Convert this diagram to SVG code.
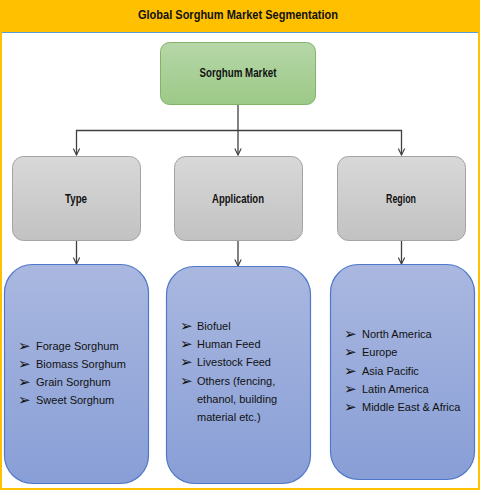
<svg xmlns="http://www.w3.org/2000/svg" width="480" height="491" viewBox="0 0 480 491">
<defs>
<linearGradient id="gGreen" x1="0" y1="0" x2="0" y2="1"><stop offset="0" stop-color="#B6D7A8"/><stop offset="1" stop-color="#9CC987"/></linearGradient>
<linearGradient id="gGray" x1="0" y1="0" x2="0" y2="1"><stop offset="0" stop-color="#D8D8D8"/><stop offset="1" stop-color="#C2C2C2"/></linearGradient>
<linearGradient id="gBlue" x1="0" y1="0" x2="0" y2="1"><stop offset="0" stop-color="#AAB8E0"/><stop offset="1" stop-color="#889ED6"/></linearGradient>
<marker id="arr" viewBox="0 0 10 10" refX="9" refY="5" markerWidth="8" markerHeight="8" markerUnits="userSpaceOnUse" orient="auto"><path d="M1,1 L9,5 L1,9" fill="none" stroke="#404040" stroke-width="1.4"/></marker>
</defs>
<style>
.title{font-family:"Liberation Sans",Arial,sans-serif;font-weight:bold;font-size:13px;fill:#111}
.hdr{font-family:"Liberation Sans",Arial,sans-serif;font-weight:bold;font-size:12px;fill:#111;text-anchor:middle}
.li{font-family:"Liberation Sans",Arial,sans-serif;font-size:11px;fill:#111}
.bul{font-family:"DejaVu Sans",sans-serif;font-size:15px;fill:#111}
.green{fill:url(#gGreen);stroke:#82B366;stroke-width:1}
.gray{fill:url(#gGray);stroke:#A3A3A3;stroke-width:1}
.blue{fill:url(#gBlue);stroke:#4F78CB;stroke-width:1.2}
.con{fill:none;stroke:#404040;stroke-width:1.3}
</style>
<rect x="0" y="0" width="480" height="491" fill="#FFFFFF"/>
<rect x="0" y="0" width="480" height="32" fill="#FFC000"/>
<line x1="2" y1="32.5" x2="478" y2="32.5" stroke="#5B9BD5" stroke-width="1"/>
<rect x="1" y="1" width="478" height="488" fill="none" stroke="#FFC000" stroke-width="2"/>
<text class="title" x="138" y="19" textLength="200" lengthAdjust="spacingAndGlyphs">Global Sorghum Market Segmentation</text>

<g id="connectors">
<line class="con" x1="238" y1="104" x2="238" y2="130"/>
<line class="con" x1="76" y1="130.5" x2="402" y2="130.5"/>
<line class="con" x1="76.5" y1="130" x2="76.5" y2="155" marker-end="url(#arr)"/>
<line class="con" x1="238" y1="130" x2="238" y2="155" marker-end="url(#arr)"/>
<line class="con" x1="401.5" y1="130" x2="401.5" y2="155" marker-end="url(#arr)"/>
<line class="con" x1="76.5" y1="240" x2="76.5" y2="264" marker-end="url(#arr)"/>
<line class="con" x1="238" y1="240" x2="238" y2="266" marker-end="url(#arr)"/>
<line class="con" x1="401.5" y1="240" x2="401.5" y2="264" marker-end="url(#arr)"/>
</g>

<g id="sorghum-market">
<rect class="green" x="160.5" y="42.5" width="155" height="62" rx="9"/>
<text class="hdr" x="238" y="77" textLength="77" lengthAdjust="spacingAndGlyphs">Sorghum Market</text>
</g>

<g id="type">
<rect class="gray" x="12.5" y="156.5" width="128" height="84" rx="11"/>
<text class="hdr" x="76" y="203" textLength="22" lengthAdjust="spacingAndGlyphs">Type</text>
</g>
<g id="application">
<rect class="gray" x="174.5" y="156.5" width="128" height="84" rx="11"/>
<text class="hdr" x="238" y="203" textLength="52" lengthAdjust="spacingAndGlyphs">Application</text>
</g>
<g id="region">
<rect class="gray" x="337.5" y="156.5" width="128" height="84" rx="11"/>
<text class="hdr" x="401" y="203" textLength="30" lengthAdjust="spacingAndGlyphs">Region</text>
</g>

<g id="type-list">
<rect class="blue" x="4.5" y="264.5" width="144" height="219" rx="28"/>
<text class="bul" x="18" y="350.5">➢</text><text class="li" x="36" y="349.5">Forage Sorghum</text>
<text class="bul" x="18" y="368.5">➢</text><text class="li" x="36" y="367.5">Biomass Sorghum</text>
<text class="bul" x="18" y="386.5">➢</text><text class="li" x="36" y="385.5">Grain Sorghum</text>
<text class="bul" x="18" y="404.5">➢</text><text class="li" x="36" y="403.5">Sweet Sorghum</text>
</g>

<g id="application-list">
<rect class="blue" x="166.5" y="266.5" width="144" height="217" rx="28"/>
<text class="bul" x="180" y="331">➢</text><text class="li" x="197" y="330">Biofuel</text>
<text class="bul" x="180" y="349">➢</text><text class="li" x="197" y="348">Human Feed</text>
<text class="bul" x="180" y="367">➢</text><text class="li" x="197" y="366">Livestock Feed</text>
<text class="bul" x="180" y="385.5">➢</text><text class="li" x="197" y="384.5">Others (fencing,</text>
<text class="li" x="197" y="402.5">ethanol, building</text>
<text class="li" x="197" y="421">material etc.)</text>
</g>

<g id="region-list">
<rect class="blue" x="330.5" y="264.5" width="144" height="215" rx="28"/>
<text class="bul" x="344" y="339">➢</text><text class="li" x="362" y="338">North America</text>
<text class="bul" x="344" y="357">➢</text><text class="li" x="362" y="356">Europe</text>
<text class="bul" x="344" y="375.5">➢</text><text class="li" x="362" y="374.5">Asia Pacific</text>
<text class="bul" x="344" y="393.5">➢</text><text class="li" x="362" y="392.5">Latin America</text>
<text class="bul" x="344" y="411.5">➢</text><text class="li" x="362" y="410.5">Middle East &amp; Africa</text>
</g>
</svg>
